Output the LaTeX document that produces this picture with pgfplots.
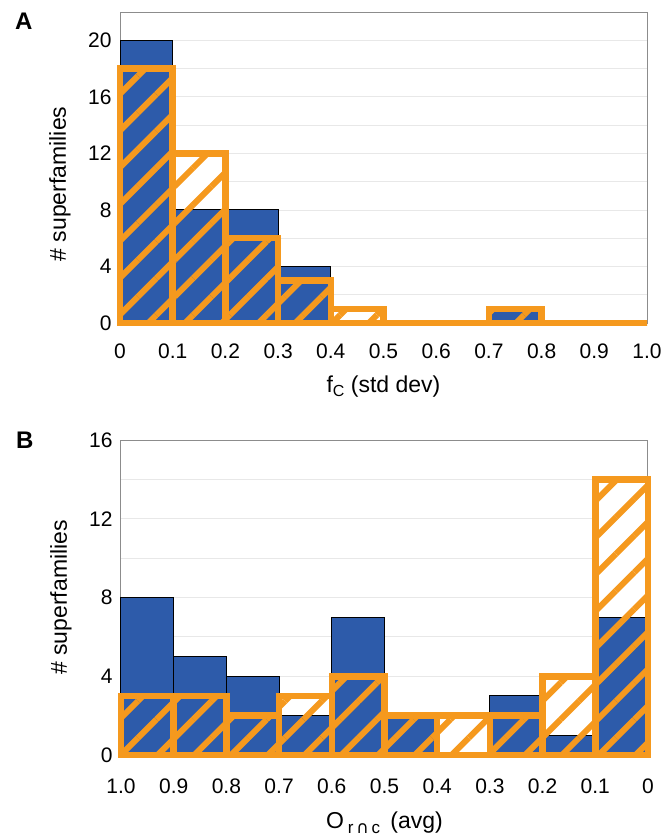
\documentclass[border=0pt]{standalone}
\usepackage{fontspec}
\setmainfont{Liberation Sans}
\newfontfamily\djv{DejaVu Sans}
\usepackage{pgfplots}
\pgfplotsset{compat=1.18}
\usetikzlibrary{patterns.meta}
\definecolor{bblue}{HTML}{2D5BAA}
\definecolor{oor}{HTML}{F5991E}
\definecolor{axgray}{HTML}{8C8C8C}
\definecolor{gridc}{HTML}{E8E8E8}

\pgfplotsset{
  hist/.style={
    scale only axis, width=527pt, clip=false,
    xmin=0, xmax=1, ymin=0,
    axis line style={axgray, line width=1pt},
    major tick length=0pt, minor tick length=0pt,
    ymajorgrids, yminorgrids,
    major grid style={gridc, line width=0.8pt},
    minor grid style={gridc, line width=0.8pt},
    xtick={0,0.1,0.2,0.3,0.4,0.5,0.6,0.7,0.8,0.9,1},
    xticklabels={0,0.1,0.2,0.3,0.4,0.5,0.6,0.7,0.8,0.9,1.0},
    ticklabel style={font=\fontsize{21}{25}\selectfont},
    yticklabel style={anchor=east, xshift=-5pt},
    /pgf/number format/assume math mode=true,
    ybar, bar width=0.1,
  },
  whitebar/.style={fill=white, draw=none, bar shift=0pt},
  bluebar/.style={fill=bblue, draw=black, line width=1pt, bar shift=0pt},
  orbar/.style={draw=oor, line width=6.5pt, pattern={Lines[angle=45,distance=26pt,line width=6pt]}, pattern color=oor, bar shift=0pt},
}

\begin{document}
\begin{tikzpicture}
\useasboundingbox (0,0) rectangle (667pt,-839pt);

% Panel A
\begin{axis}[hist,
  at={(120pt,-323pt)}, anchor=south west, height=311pt,
  ymax=22, ytick={0,4,8,12,16,20}, minor ytick={2,6,10,14,18},
  xticklabel style={yshift=-17pt},
  every axis x label/.style={at={(axis description cs:0.5,0)}, anchor=base, yshift=-69pt, font=\fontsize{23}{27}\selectfont},
  every axis y label/.style={at={(axis description cs:-0.114,0.447)}, anchor=center, rotate=90, font=\fontsize{23}{27}\selectfont},
  xlabel={f\raisebox{-4pt}{\fontsize{16}{19}\selectfont C} (std dev)},
  ylabel={\# superfamilies},
]
\addplot[whitebar] coordinates {(0.05,18) (0.15,12) (0.25,6) (0.35,3) (0.45,1) (0.55,0) (0.65,0) (0.75,1) (0.85,0) (0.95,0)};
\addplot[bluebar] coordinates {(0.05,20) (0.15,8) (0.25,8) (0.35,4) (0.75,1)};
\addplot[orbar] coordinates {(0.05,18) (0.15,12) (0.25,6) (0.35,3) (0.45,1) (0.55,0) (0.65,0) (0.75,1) (0.85,0) (0.95,0)};
\end{axis}
\node[anchor=north west, inner sep=0pt, font=\fontsize{24}{28}\selectfont\bfseries] at (15pt,-13pt) {A};

% Panel B
\begin{axis}[hist,
  at={(121pt,-755pt)}, anchor=south west, height=315pt,
  x dir=reverse,
  ymax=16, ytick={0,4,8,12,16}, minor ytick={2,6,10,14},
  xticklabel style={yshift=-20pt},
  every axis x label/.style={at={(axis description cs:0.5,0)}, anchor=base, yshift=-73pt, font=\fontsize{23}{27}\selectfont},
  every axis y label/.style={at={(axis description cs:-0.114,0.5)}, anchor=center, rotate=90, font=\fontsize{23}{27}\selectfont},
  xlabel={O\,\raisebox{-5pt}{\fontsize{17}{20}\selectfont r\,{\djv ∩}\,c}\, (avg)},
  ylabel={\# superfamilies},
]
\addplot[whitebar] coordinates {(0.95,3) (0.85,3) (0.75,2) (0.65,3) (0.55,4) (0.45,2) (0.35,2) (0.25,2) (0.15,4) (0.05,14)};
\addplot[bluebar] coordinates {(0.95,8) (0.85,5) (0.75,4) (0.65,2) (0.55,7) (0.45,2) (0.25,3) (0.15,1) (0.05,7)};
\addplot[orbar] coordinates {(0.95,3) (0.85,3) (0.75,2) (0.65,3) (0.55,4) (0.45,2) (0.35,2) (0.25,2) (0.15,4) (0.05,14)};
\end{axis}
\node[anchor=north west, inner sep=0pt, font=\fontsize{24}{28}\selectfont\bfseries] at (16pt,-432pt) {B};
\end{tikzpicture}
\end{document}
